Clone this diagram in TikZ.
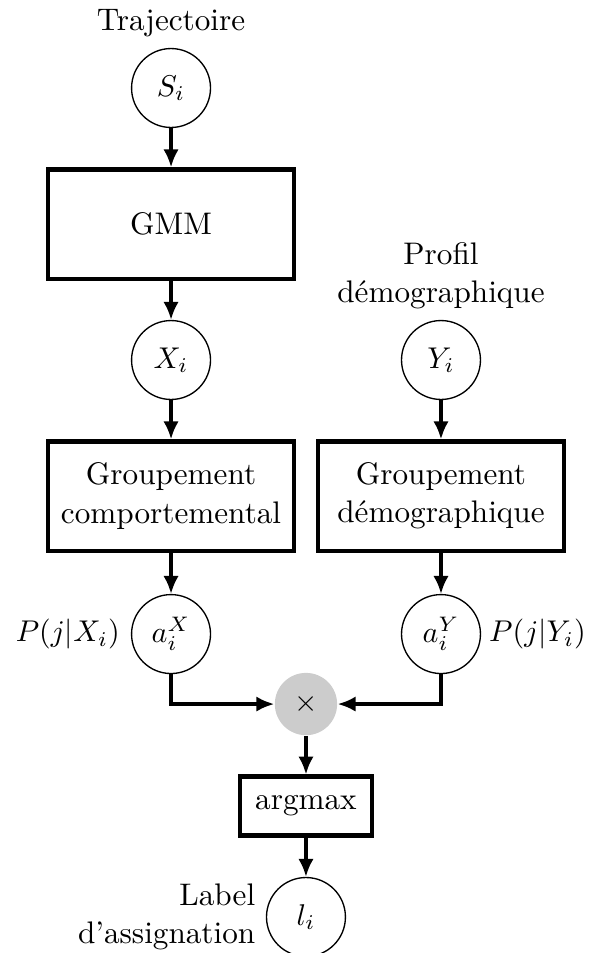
\documentclass[tikz,border=0pt]{standalone}
\usetikzlibrary{arrows.meta,positioning}
\definecolor{ink}{HTML}{000000}
\definecolor{prodfill}{HTML}{CCCCCC}
\newcommand{\figfont}{\fontsize{10.4}{12.7}\selectfont}
\tikzset{
  % ---- variables and operators ----------------------------------
  var/.style      = {circle, draw=ink, line width=.45pt, fill=white,
                     inner sep=0pt, minimum size=9.25mm, font=\figfont},
  prod/.style     = {circle, fill=prodfill, inner sep=0pt,
                     minimum size=7.3mm, font=\figfont},
  % ---- processing blocks ------------------------------------------
  block/.style    = {rectangle, draw=ink, line width=1.4pt, align=center,
                     minimum width=28.9mm, minimum height=12.8mm,
                     font=\figfont},
  smallblock/.style = {rectangle, draw=ink, line width=1.4pt,
                     minimum width=15.5mm, minimum height=6.9mm,
                     font=\figfont},
  % ---- texts and connectors ----------------------------------------
  vartag/.style   = {align=center, font=\figfont},
  sidetag/.style  = {vartag, inner sep=1.5pt},
  flow/.style     = {draw=ink, line width=1.1pt,
                     -{Latex[length=2.1mm,width=1.8mm]}},
}
\begin{document}
\begin{tikzpicture}
  \useasboundingbox (0,0) rectangle (6.925,-11.166);
  \node[var] (s) at (2.004,-1.031) {$S_i$};
  \node[block] (gmm) at (2.004,-2.625) {GMM};
  \node[var] (x) at (2.004,-4.218) {$X_i$};
  \node[var] (y) at (5.167,-4.218) {$Y_i$};
  \node[block] (gc) at (2.004,-5.812) {Groupement\\comportemental};
  \node[block] (gd) at (5.167,-5.812) {Groupement\\démographique};
  \node[var] (ax) at (2.004,-7.429) {$a_i^X$};
  \node[var] (ay) at (5.167,-7.429) {$a_i^Y$};
  \node[prod] (m) at (3.585,-8.249) {$\times$};
  \node[smallblock] (am) at (3.585,-9.444) {argmax};
  \node[var] (l) at (3.585,-10.744) {$l_i$};
  \node[vartag, above=0pt of s] (ts) {Trajectoire};
  \node[vartag, above=0pt of y] (ty) {Profil\\démographique};
  \node[sidetag, left=2pt of ax] (tx) {$P(j|X_i)$};
  \node[sidetag, right=1pt of ay] (tay) {$P(j|Y_i)$};
  \node[vartag, align=right, left=0pt of l] (tl) {Label\\d’assignation};
  \draw[flow] (s) -- (gmm);
  \draw[flow] (gmm) -- (x);
  \draw[flow] (x) -- (gc);
  \draw[flow] (y) -- (gd);
  \draw[flow] (gc) -- (ax);
  \draw[flow] (gd) -- (ay);
  \draw[flow] (ax) |- (m);
  \draw[flow] (ay) |- (m);
  \draw[flow] (m) -- (am);
  \draw[flow] (am) -- (l);
\end{tikzpicture}
\end{document}
